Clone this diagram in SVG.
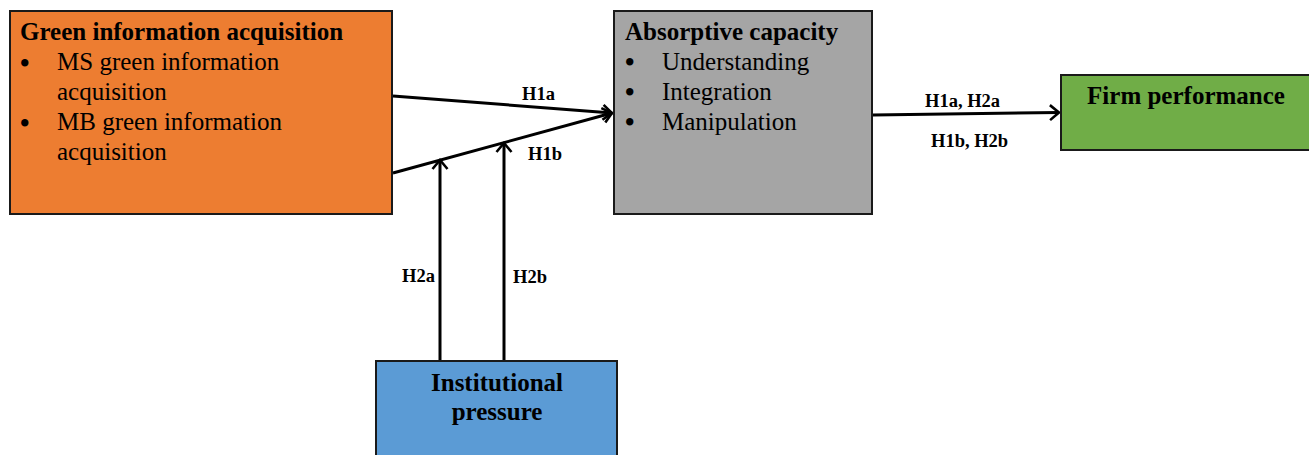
<svg xmlns="http://www.w3.org/2000/svg" width="1309" height="455" viewBox="0 0 1309 455">
<defs>
<marker id="arr" markerWidth="16" markerHeight="18" refX="12" refY="9" orient="auto" markerUnits="userSpaceOnUse">
<path d="M3,1.5 L12,9 L3,16.5" fill="none" stroke="#000" stroke-width="2.6"/>
</marker>
<style>
.box{stroke:#1a1a1a;stroke-width:2}
.t{font-family:"Liberation Serif","Times New Roman",serif;font-size:25px;fill:#000}
.b{font-weight:bold}
.bul{font-size:27px;font-weight:bold}
.lbl{font-family:"Liberation Serif","Times New Roman",serif;font-size:18.5px;font-weight:bold;fill:#000}
.ln{stroke:#000;stroke-width:3;fill:none}
</style>
</defs>
<rect width="1309" height="455" fill="#fff"/>
<g id="connectors">
<line class="ln" x1="393" y1="96" x2="612" y2="113" marker-end="url(#arr)"/>
<line class="ln" x1="393" y1="173" x2="612" y2="113" marker-end="url(#arr)"/>
<line class="ln" x1="440" y1="360" x2="440" y2="160" marker-end="url(#arr)"/>
<line class="ln" x1="504" y1="360" x2="504" y2="143" marker-end="url(#arr)"/>
<line class="ln" x1="873" y1="115" x2="1059" y2="112.5" marker-end="url(#arr)"/>
<text class="lbl" x="522" y="100">H1a</text>
<text class="lbl" x="528" y="160">H1b</text>
<text class="lbl" x="925" y="107">H1a, H2a</text>
<text class="lbl" x="931" y="147">H1b, H2b</text>
<text class="lbl" x="402" y="282">H2a</text>
<text class="lbl" x="513" y="283">H2b</text>
</g>
<g id="green-info">
<rect class="box" x="10" y="11" width="382" height="203" fill="#ED7D31"/>
<text class="t b" x="20" y="40">Green information acquisition</text>
<text class="t"><tspan class="bul" x="20" y="72">•</tspan><tspan x="57" y="70">MS green information</tspan><tspan x="57" y="100">acquisition</tspan><tspan class="bul" x="20" y="132">•</tspan><tspan x="57" y="130">MB green information</tspan><tspan x="57" y="160">acquisition</tspan></text>
</g>
<g id="absorptive">
<rect class="box" x="614" y="11" width="258" height="203" fill="#A5A5A5"/>
<text class="t b" x="625" y="40">Absorptive capacity</text>
<text class="t"><tspan class="bul" x="625" y="71">•</tspan><tspan x="662" y="70">Understanding</tspan><tspan class="bul" x="625" y="101">•</tspan><tspan x="662" y="100">Integration</tspan><tspan class="bul" x="625" y="131">•</tspan><tspan x="662" y="130">Manipulation</tspan></text>
</g>
<g id="firm">
<rect class="box" x="1061" y="75" width="250" height="75" fill="#70AD47"/>
<text class="t b" x="1186" y="104" text-anchor="middle">Firm performance</text>
</g>
<g id="institutional">
<rect class="box" x="376" y="361" width="241" height="100" fill="#5B9BD5"/>
<text class="t b" x="497" y="391" text-anchor="middle">Institutional</text>
<text class="t b" x="497" y="420" text-anchor="middle">pressure</text>
</g>
</svg>
